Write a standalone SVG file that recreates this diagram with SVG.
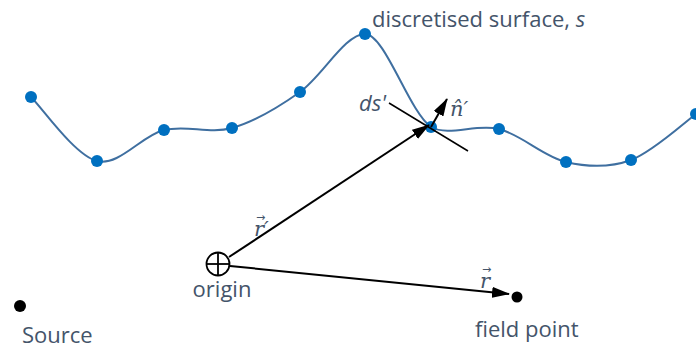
<svg xmlns="http://www.w3.org/2000/svg" width="696" height="349" viewBox="0 0 696 349">
<defs>
<style>
.lbl{font-family:"Open Sans","Liberation Sans",sans-serif;font-size:22px;fill:#44546A}
.math{font-family:"DejaVu Serif","Liberation Serif",serif;font-style:italic;font-size:21px;fill:#44546A}
.acc{font-family:"DejaVu Sans","Liberation Sans",sans-serif;font-style:normal;font-size:11px}
.dot{fill:#0070C0}
.vec{stroke:#000;stroke-width:2;fill:none}
</style>
<marker id="ah" viewBox="0 0 18 11" refX="17" refY="5.5" markerWidth="18" markerHeight="11" markerUnits="userSpaceOnUse" orient="auto">
<path d="M0,0 L18,5.5 L0,11 z" fill="#000"/>
</marker>
</defs>
<rect width="696" height="349" fill="#fff"/>
<g id="surface">
<path d="M31,97 C42,107.7 74.8,155.5 97,161 C119.2,166.5 141.5,135.5 164,130 C186.5,124.5 209.3,134.3 232,128 C254.7,121.7 277.8,107.7 300,92 C322.2,76.3 345,34 365,34 C385,34 408.7,111.2 431,127 C449,137 476.5,123.2 499,129 C521.5,134.8 544,156.8 566,162 C588,167.2 609.3,168 631,160 C652.7,152 685.2,121.7 696,114" fill="none" stroke="#3F6FA0" stroke-width="2"/>
<circle class="dot" cx="31" cy="97" r="6"/>
<circle class="dot" cx="97" cy="161" r="6"/>
<circle class="dot" cx="164" cy="130" r="6"/>
<circle class="dot" cx="232" cy="128" r="6"/>
<circle class="dot" cx="300" cy="92" r="6"/>
<circle class="dot" cx="365" cy="34" r="6"/>
<circle class="dot" cx="431" cy="127" r="6"/>
<circle class="dot" cx="499" cy="129" r="6"/>
<circle class="dot" cx="566" cy="162" r="6"/>
<circle class="dot" cx="631" cy="160" r="6"/>
<circle class="dot" cx="696" cy="114" r="6"/>
<text class="lbl" x="372" y="27">discretised surface, <tspan font-style="italic">s</tspan></text>
</g>
<g id="tangent">
<line x1="389" y1="103" x2="468" y2="151" stroke="#000" stroke-width="1.5"/>
<text class="lbl" x="359" y="111" font-style="italic">ds'</text>
</g>
<g id="origin">
<circle cx="218" cy="264" r="11.5" fill="#fff" stroke="#000" stroke-width="1.8"/>
<line x1="206.5" y1="264" x2="229.5" y2="264" stroke="#000" stroke-width="1.8"/>
<line x1="218" y1="252.5" x2="218" y2="275.5" stroke="#000" stroke-width="1.8"/>
<text class="lbl" x="222" y="297" text-anchor="middle">origin</text>
</g>
<g id="source">
<circle cx="20" cy="306" r="6" fill="#000"/>
<text class="lbl" x="22" y="343">Source</text>
</g>
<g id="field-point">
<circle cx="517" cy="297" r="5.5" fill="#000"/>
<text class="lbl" x="475" y="337">field point</text>
</g>
<g id="connectors">
<line class="vec" x1="229" y1="257" x2="429" y2="125" marker-end="url(#ah)"/>
<line class="vec" x1="431" y1="127" x2="447" y2="99" marker-end="url(#ah)"/>
<line class="vec" x1="230" y1="266" x2="509" y2="294" marker-end="url(#ah)"/>
<text class="math" x="254" y="236">r′<tspan class="acc" x="256" y="221">→</tspan></text>
<text class="math" x="480" y="288">r<tspan class="acc" x="482" y="273">→</tspan></text>
<text class="math" x="450" y="116" font-size="17">n̂′</text>
</g>
</svg>
